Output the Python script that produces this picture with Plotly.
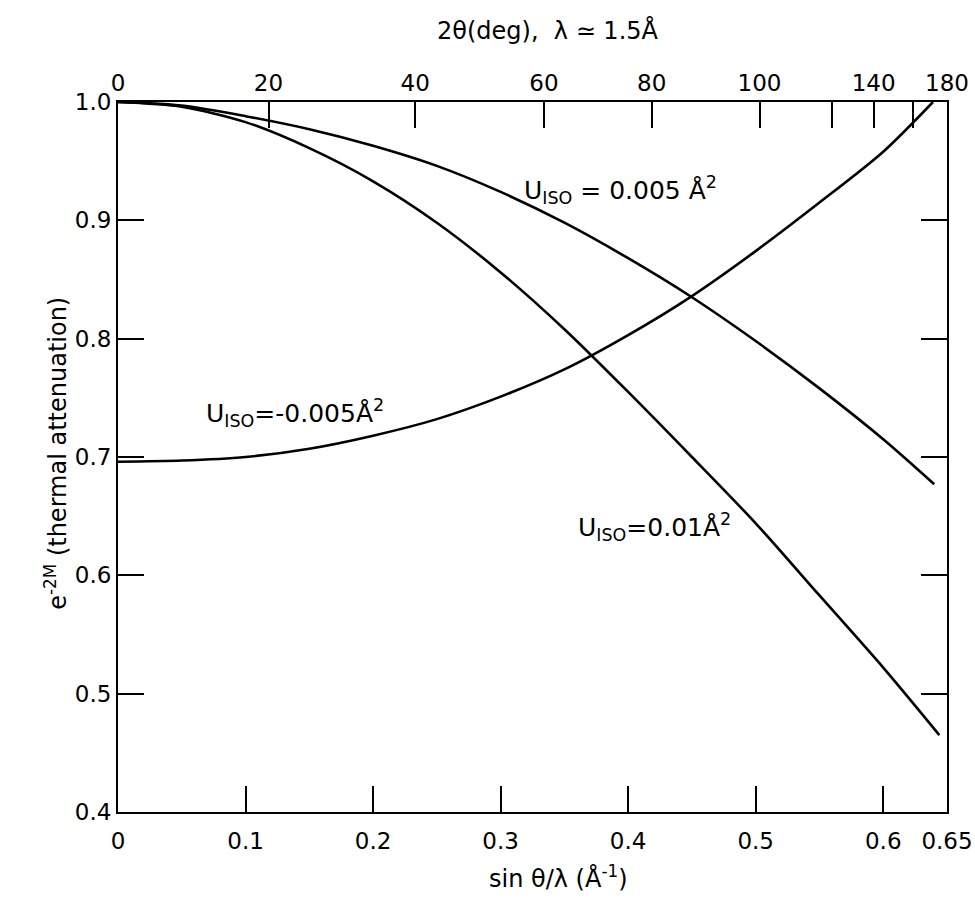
import plotly.graph_objects as go

# U_iso = 0.005 A^2
x_u005 = [0.0, 0.05, 0.10, 0.15, 0.20, 0.25, 0.30, 0.35, 0.40, 0.45, 0.50, 0.55, 0.60, 0.640]
y_u005 = [1.0, 0.997, 0.988, 0.977, 0.963, 0.946, 0.924, 0.898, 0.868, 0.835, 0.798, 0.758, 0.715, 0.677]

# U_iso = 0.01 A^2
x_u01 = [0.0, 0.05, 0.10, 0.15, 0.20, 0.25, 0.30, 0.35, 0.40, 0.45, 0.50, 0.55, 0.60, 0.644]
y_u01 = [1.0, 0.996, 0.983, 0.961, 0.933, 0.898, 0.856, 0.808, 0.755, 0.700, 0.644, 0.583, 0.522, 0.465]

# U_iso = -0.005 A^2
x_um005 = [0.0, 0.05, 0.10, 0.15, 0.20, 0.25, 0.30, 0.35, 0.40, 0.45, 0.50, 0.55, 0.60, 0.639]
y_um005 = [0.696, 0.697, 0.700, 0.707, 0.718, 0.732, 0.751, 0.774, 0.803, 0.836, 0.874, 0.915, 0.958, 1.0]

# bottom / left axis ticks
x_ticks = [0, 0.1, 0.2, 0.3, 0.4, 0.5, 0.6, 0.65]
x_ticktext = ["0", "0.1", "0.2", "0.3", "0.4", "0.5", "0.6", "0.65"]
y_ticks = [0.4, 0.5, 0.6, 0.7, 0.8, 0.9, 1.0]
y_ticktext = ["0.4", "0.5", "0.6", "0.7", "0.8", "0.9", "1.0"]

# top axis: 2theta (deg) tick positions on the sin(theta)/lambda scale
top_tick_pos = [0.0, 0.118, 0.233, 0.334, 0.4185, 0.503, 0.5596, 0.5925, 0.623, 0.65]
top_tick_text = ["0", "20", "40", "60", "80", "100", "", "140", "", "180"]

FONT = "DejaVu Sans"
TICK_SIZE = 23
line = dict(color="black", width=2.6, shape="spline", smoothing=0.8)

fig = go.Figure()
fig.add_trace(go.Scatter(x=x_u005, y=y_u005, mode="lines", line=line, showlegend=False))
fig.add_trace(go.Scatter(x=x_u01, y=y_u01, mode="lines", line=line, showlegend=False))
fig.add_trace(go.Scatter(x=x_um005, y=y_um005, mode="lines", line=line, showlegend=False))
# invisible trace to activate the top axis
fig.add_trace(go.Scatter(x=[0, 0.65], y=[None, None], xaxis="x2", mode="lines",
                         showlegend=False, hoverinfo="skip"))

axis_common = dict(
    showgrid=False, zeroline=False, showline=True, linecolor="black", linewidth=2,
    ticks="inside", ticklen=26, tickwidth=1.5, tickcolor="black",
    ticklabeloverflow="allow", automargin=False,
    tickfont=dict(family=FONT, size=TICK_SIZE, color="black"),
)

fig.update_layout(
    width=975, height=900,
    margin=dict(l=118, r=28, t=102, b=88, autoexpand=False),
    paper_bgcolor="white", plot_bgcolor="white",
    font=dict(family=FONT, color="black"),
    xaxis=dict(axis_common, range=[0, 0.65], mirror=True, ticklabelstandoff=7,
               tickmode="array", tickvals=x_ticks, ticktext=x_ticktext),
    xaxis2=dict(axis_common, range=[0, 0.65], overlaying="x", side="top",
                tickmode="array", tickvals=top_tick_pos, ticktext=top_tick_text),
    yaxis=dict(axis_common, range=[0.4, 1.0], mirror="ticks",
               tickmode="array", tickvals=y_ticks, ticktext=y_ticktext),
)

title_font = dict(family=FONT, size=24, color="black")
fig.add_annotation(xref="paper", yref="paper", x=0.531, y=-0.0915,
                   xanchor="center", yanchor="middle",
                   text="sin θ/λ (Å<sup>-1</sup>)", showarrow=False, font=title_font)
fig.add_annotation(xref="paper", yref="paper", x=0.519, y=1.101,
                   xanchor="center", yanchor="middle",
                   text="2θ(deg),  λ ≃ 1.5Å", showarrow=False, font=title_font)
fig.add_annotation(xref="paper", yref="paper", x=-0.0748, y=0.506, textangle=-90,
                   xanchor="center", yanchor="middle",
                   text="e<sup>-2M</sup> (thermal attenuation)", showarrow=False, font=title_font)

ann_font = dict(family=FONT, size=25, color="black")
fig.add_annotation(x=0.394, y=0.926, text="U<sub>ISO</sub> = 0.005 Å<sup>2</sup>",
                   showarrow=False, font=ann_font)
fig.add_annotation(x=0.139, y=0.737, text="U<sub>ISO</sub>=-0.005Å<sup>2</sup>",
                   showarrow=False, font=ann_font)
fig.add_annotation(x=0.421, y=0.641, text="U<sub>ISO</sub>=0.01Å<sup>2</sup>",
                   showarrow=False, font=ann_font)

# remove the default page margin so the figure fills the 975x900 window exactly
fig.write_html(
    "out.html",
    config={"displayModeBar": False},
    post_script="document.body.style.margin='0';document.body.style.overflow='hidden';",
)
